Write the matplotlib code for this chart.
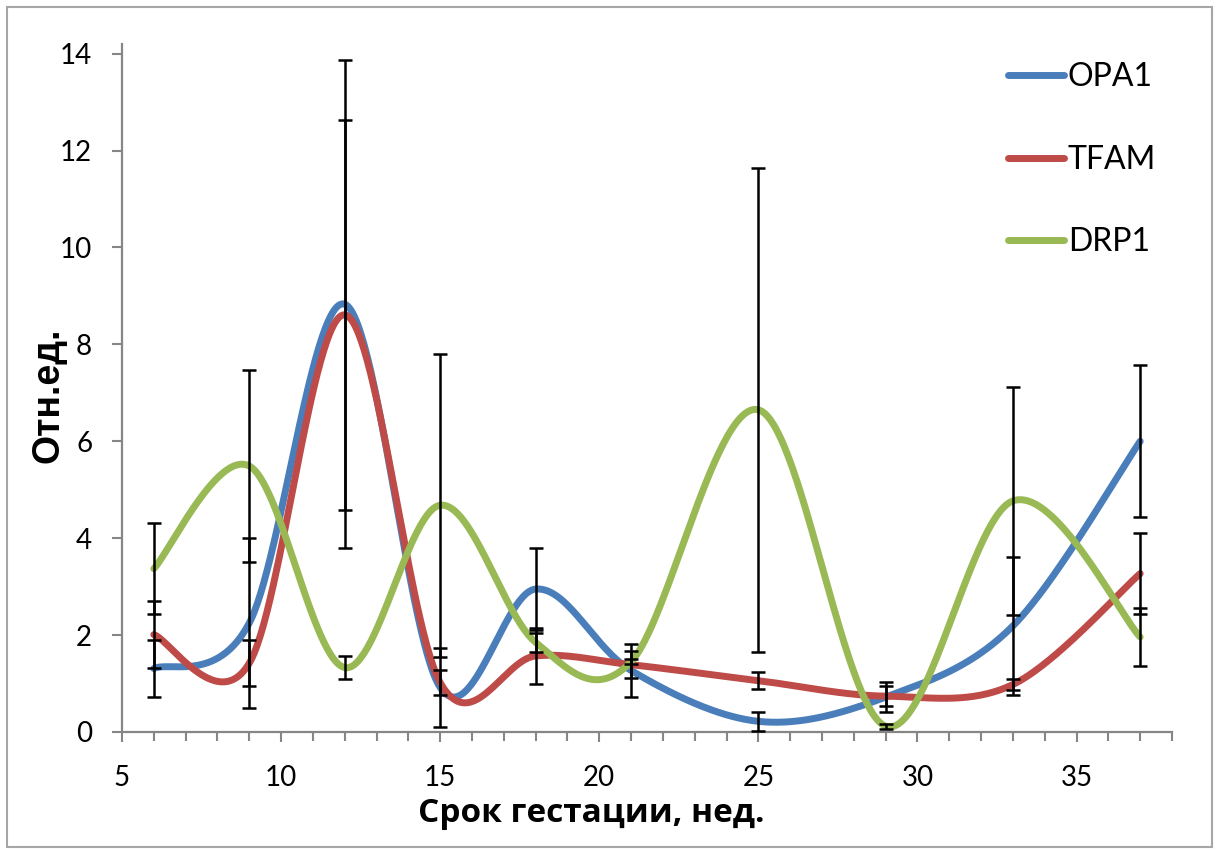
import matplotlib
matplotlib.use("Agg")
import matplotlib.pyplot as plt
from matplotlib.patches import Rectangle
from matplotlib.ticker import MultipleLocator
import numpy as np

weeks = [6, 9, 12, 15, 18, 21, 25, 29, 33, 37]

opa1 = [1.31, 2.25, 8.83, 0.92, 2.95, 1.27, 0.22, 0.72, 2.19, 6.00]
opa1_err = [0.59, 1.75, 5.04, 0.81, 0.85, 0.54, 0.20, 0.31, 1.43, 1.57]

tfam = [2.01, 1.42, 8.61, 1.02, 1.57, 1.39, 1.06, 0.74, 0.98, 3.27]
tfam_err = [0.69, 0.47, 4.03, 0.26, 0.57, 0.28, 0.17, 0.20, 0.11, 0.83]

drp1 = [3.37, 5.49, 1.33, 4.68, 1.85, 1.45, 6.65, 0.12, 4.77, 1.96]
drp1_err = [0.94, 1.98, 0.24, 3.13, 0.20, 0.05, 5.00, 0.05, 2.36, 0.60]

series = [("OPA1", opa1, opa1_err, "#4a7ebb"),
          ("TFAM", tfam, tfam_err, "#be4b48"),
          ("DRP1", drp1, drp1_err, "#98b954")]


def smooth(xs, ys, n=60):
    # excel-style smoothed line: bezier segments, catmull-rom control points
    pts = np.column_stack([xs, ys]).astype(float)
    last = len(pts) - 1
    out = []
    t = np.linspace(0, 1, n)[:, None]
    for i in range(last):
        p0 = pts[max(i - 1, 0)]
        p1 = pts[i]
        p2 = pts[i + 1]
        p3 = pts[min(i + 2, last)]
        c1 = p1 + (p2 - p0) / 6
        c2 = p2 - (p3 - p1) / 6
        seg = (1 - t)**3 * p1 + 3 * (1 - t)**2 * t * c1 + 3 * (1 - t) * t**2 * c2 + t**3 * p2
        out.append(seg if i == 0 else seg[1:])
    out = np.vstack(out)
    return out[:, 0], out[:, 1]


fig = plt.figure(figsize=(12.19, 8.5), dpi=100)
ax = fig.add_axes([122 / 1219, 1 - 732 / 850, 1050 / 1219, 688 / 850])

fig.patches.append(Rectangle((7 / 1219, 3 / 850), 1205 / 1219, 840 / 850,
                             transform=fig.transFigure, fill=False,
                             edgecolor="#a6a6a6", linewidth=1.5))

for name, vals, err, col in series:
    sx, sy = smooth(weeks, vals)
    ax.plot(sx, sy, color=col, linewidth=5, label=name, solid_capstyle="round", zorder=2)

for name, vals, err, col in series:
    ax.errorbar(weeks, vals, yerr=err, fmt="none", ecolor="black",
                elinewidth=1.8, capsize=5, capthick=1.8, zorder=3)

ax.set_xlim(5, 38)
ax.set_ylim(0, 14.2)
ax.xaxis.set_major_locator(MultipleLocator(5))
ax.xaxis.set_minor_locator(MultipleLocator(1))
ax.yaxis.set_major_locator(MultipleLocator(2))

for s in ["top", "right"]:
    ax.spines[s].set_visible(False)
for s in ["left", "bottom"]:
    ax.spines[s].set_color("#868686")
    ax.spines[s].set_linewidth(1.6)

ax.tick_params(axis="both", which="major", direction="out", length=7.5, width=1.5,
               color="#868686", labelsize=20, labelcolor="black")
ax.tick_params(axis="x", which="minor", direction="out", length=6.5, width=1.5, color="#868686")
ax.tick_params(axis="y", pad=14)
ax.tick_params(axis="x", pad=16)
for lab in ax.get_xticklabels() + ax.get_yticklabels():
    lab.set_fontfamily(["Lato", "DejaVu Sans"])

ax.set_xlabel("Срок гестации, нед.", fontsize=24, fontweight="bold",
              family=["Open Sans", "DejaVu Sans"])
ax.xaxis.set_label_coords(0.447, -0.095)
ax.set_ylabel("Отн.ед.", fontsize=27, fontweight="bold",
              family=["Liberation Sans", "DejaVu Sans"])
ax.yaxis.set_label_coords(-0.053, 0.49)

leg = ax.legend(loc="upper left", bbox_to_anchor=(1008 / 1219, 1 - 62 / 850),
                bbox_transform=fig.transFigure, frameon=False, borderpad=0,
                borderaxespad=0, handlelength=1.75, handletextpad=0.12,
                labelspacing=1.65, prop={"family": ["Lato", "DejaVu Sans"], "size": 23})

fig.savefig("out.png", dpi=100)
